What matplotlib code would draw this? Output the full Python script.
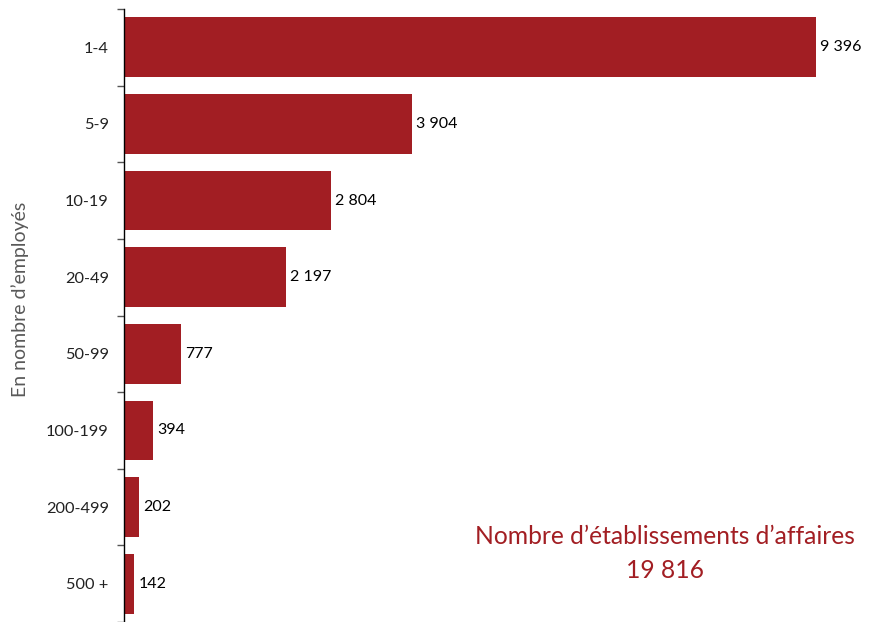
import matplotlib
matplotlib.use("Agg")
import matplotlib.pyplot as plt
import numpy as np

categories = ["1-4", "5-9", "10-19", "20-49", "50-99", "100-199", "200-499", "500 +"]
values = [9396, 3904, 2804, 2197, 777, 394, 202, 142]
value_labels = ["9 396", "3 904", "2 804", "2 197", "777", "394", "202", "142"]
total_label = "19 816"
ylabel = "En nombre d\u2019employés"
note = "Nombre d\u2019établissements d\u2019affaires"

plt.rcParams['font.family'] = ['Lato', 'DejaVu Sans']
bar_color = "#A21E23"

fig = plt.figure(figsize=(8.79, 6.22), dpi=100)
ax = fig.add_axes([124/879, 0.0, 1 - 124/879, 1 - 9/622])

y = np.arange(len(categories))
ax.barh(y, values, height=0.78, color=bar_color)
ax.set_ylim(len(categories) - 0.5, -0.5)
ax.set_xlim(0, (879 - 124) / ((816 - 124) / 9396))

for yi, v, lab in zip(y, values, value_labels):
    ax.annotate(lab, (v, yi), xytext=(3, 0), textcoords="offset points",
                va="center", ha="left", fontsize=11.5, color="black")

ax.set_yticks(y)
ax.set_yticklabels(categories, fontsize=11.8, color="#222222")
ax.tick_params(axis="y", which="major", length=0, pad=11)
ax.set_yticks(np.arange(-0.5, len(categories) - 0.4, 1), minor=True)
ax.tick_params(axis="y", which="minor", length=5, width=1, color="#555555")
ax.set_xticks([])
for s in ["top", "right", "bottom"]:
    ax.spines[s].set_visible(False)
ax.spines["left"].set_color("black")
ax.spines["left"].set_linewidth(1)

fig.text(20/879, 1 - 299/622, ylabel, rotation=90, ha="center", va="center",
         fontsize=14, color="#595959")
fig.text(665/879, 1 - 536/622, note, ha="center", va="center", fontsize=17.7, color=bar_color)
fig.text(665/879, 1 - 571/622, total_label, ha="center", va="center", fontsize=17.7, color=bar_color)

fig.savefig("out.png", dpi=100)
